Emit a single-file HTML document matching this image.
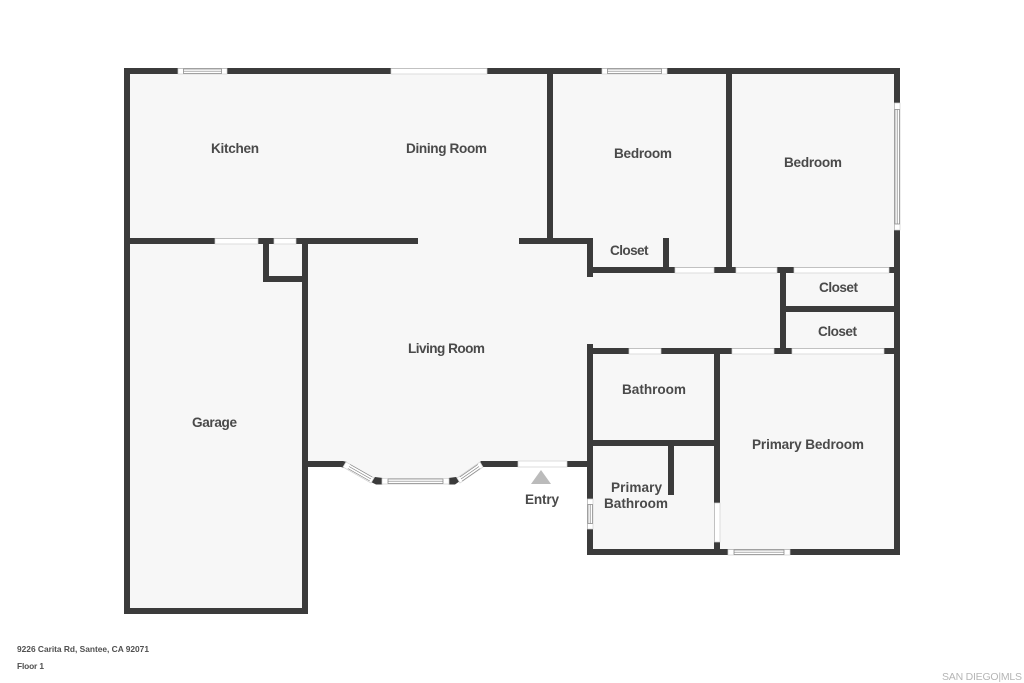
<!DOCTYPE html>
<html>
<head>
<meta charset="utf-8">
<style>
html,body{margin:0;padding:0;background:#fff;width:1024px;height:683px;overflow:hidden}
svg{display:block}
text{font-family:"Liberation Sans",sans-serif;font-weight:700;fill:#4a4a4a;font-size:13.6px}
text.f{font-size:8.4px;fill:#505050}
.w{fill:#3b3b3b}
.o{fill:#fff;stroke:#d0d0d0;stroke-width:.7}
.l{fill:none;stroke:#808080;stroke-width:.7}
</style>
</head>
<body>
<svg width="1024" height="683" viewBox="0 0 1024 683" xmlns="http://www.w3.org/2000/svg">
<rect width="1024" height="683" fill="#fff"/>
<polygon fill="#f7f7f7" points="124,68 900,68 900,555 587,555 587,464 481,464 452,481 378,481 345,464 305,464 305,614 124,614"/>

<g class="w">
<!-- outer -->
<rect x="124" y="68" width="776" height="6"/>
<rect x="124" y="68" width="6" height="546"/>
<rect x="124" y="608" width="184" height="6"/>
<rect x="302" y="238" width="6" height="376"/>
<rect x="894" y="68" width="6" height="487"/>
<rect x="587" y="549" width="313" height="6"/>
<!-- kitchen / garage wall -->
<rect x="124" y="238" width="294" height="6"/>
<rect x="263" y="238" width="6" height="44"/>
<rect x="263" y="276" width="45" height="6"/>
<!-- dining / bedroom -->
<rect x="547" y="68" width="6" height="176"/>
<rect x="519" y="238" width="74" height="6"/>
<rect x="587" y="238" width="6" height="39"/>
<rect x="587" y="267" width="313" height="6"/>
<rect x="663" y="238" width="6" height="35"/>
<rect x="726" y="68" width="6" height="205"/>
<!-- closets -->
<rect x="780" y="267" width="6" height="87"/>
<rect x="780" y="306" width="120" height="6"/>
<!-- lower rooms -->
<rect x="587" y="348" width="313" height="6"/>
<rect x="587" y="344" width="6" height="211"/>
<rect x="714" y="348" width="6" height="207"/>
<rect x="587" y="440" width="133" height="6"/>
<rect x="668" y="440" width="6" height="55"/>
<!-- front wall -->
<rect x="302" y="461" width="41" height="6"/>
<rect x="481" y="461" width="107" height="6"/>
<polygon points="375,477 382.5,478 382.5,484.5 376,484.5 371,482"/>
<polygon points="448.5,478 456,477 460,481 455,484.5 448.5,484.5"/>
<polygon points="343,461 347,462 344,468 341,467"/>
<polygon points="478,464 481,461 483,467 480,469"/>
</g>

<!-- doors / openings -->
<rect class="o" x="391" y="68.5" width="96" height="5.5"/>
<rect class="o" x="215" y="238.5" width="43" height="5.5"/>
<rect class="o" x="274" y="238.5" width="22" height="5.5"/>
<rect class="o" x="675" y="267.5" width="39" height="5.5"/>
<rect class="o" x="736" y="267.5" width="41" height="5.5"/>
<rect class="o" x="794" y="267.5" width="95" height="5.5"/>
<rect class="o" x="629" y="348.5" width="32" height="5.5"/>
<rect class="o" x="732" y="348.5" width="42" height="5.5"/>
<rect class="o" x="792" y="348.5" width="92" height="5.5"/>
<rect class="o" x="518" y="461" width="49" height="6"/>
<rect class="o" x="714.5" y="503" width="5.5" height="39"/>

<!-- windows -->
<rect class="o" x="178" y="68.5" width="49" height="5.5"/>
<rect class="l" x="183.5" y="69" width="38" height="4.5"/><line class="l" x1="183.5" y1="71.2" x2="221.5" y2="71.2"/>
<rect class="o" x="602" y="68.5" width="65" height="5.5"/>
<rect class="l" x="607.5" y="69" width="54" height="4.5"/><line class="l" x1="607.5" y1="71.2" x2="661.5" y2="71.2"/>
<rect class="o" x="728" y="549.5" width="62" height="5.5"/>
<rect class="l" x="734" y="550" width="50" height="4.5"/><line class="l" x1="734" y1="552.2" x2="784" y2="552.2"/>
<rect class="o" x="894.5" y="103" width="5.5" height="127"/>
<rect class="l" x="895" y="109.5" width="4.5" height="114.5"/><line class="l" x1="897.2" y1="109.5" x2="897.2" y2="224"/>
<rect class="o" x="587.5" y="499" width="5.5" height="30"/>
<rect class="l" x="588" y="504.5" width="4.5" height="19"/><line class="l" x1="590.2" y1="504.5" x2="590.2" y2="523.5"/>
<rect class="o" x="382" y="478.5" width="67" height="5.5"/>
<rect class="l" x="388" y="479" width="55" height="4.5"/><line class="l" x1="388" y1="481.2" x2="443" y2="481.2"/>
<polygon class="o" points="346,462 374,478 371,483 343,467"/>
<line class="l" x1="349" y1="466.5" x2="371" y2="479"/><line class="l" x1="347.8" y1="468.5" x2="369.8" y2="481"/><line class="l" x1="350.2" y1="464.5" x2="372.2" y2="477"/>
<polygon class="o" points="457,478 480,462 483,467 460,483"/>
<line class="l" x1="461" y1="479" x2="479" y2="466.5"/><line class="l" x1="459.8" y1="477" x2="477.8" y2="464.5"/><line class="l" x1="462.2" y1="481" x2="480.2" y2="468.5"/>

<!-- entry marker -->
<polygon fill="#bbbbbb" points="541,470 551,484 531,484"/>

<!-- labels -->
<text x="211" y="153" textLength="48" lengthAdjust="spacing">Kitchen</text>
<text x="406" y="153" textLength="81" lengthAdjust="spacing">Dining Room</text>
<text x="614" y="158" textLength="58" lengthAdjust="spacing">Bedroom</text>
<text x="784" y="167" textLength="58" lengthAdjust="spacing">Bedroom</text>
<text x="610" y="255" textLength="38.5" lengthAdjust="spacing">Closet</text>
<text x="819" y="292" textLength="39" lengthAdjust="spacing">Closet</text>
<text x="818" y="336" textLength="39" lengthAdjust="spacing">Closet</text>
<text x="408" y="353" textLength="77" lengthAdjust="spacing">Living Room</text>
<text x="192" y="427" textLength="45" lengthAdjust="spacing">Garage</text>
<text x="622" y="394" textLength="64" lengthAdjust="spacing">Bathroom</text>
<text x="752" y="449" textLength="112" lengthAdjust="spacing">Primary Bedroom</text>
<text x="611" y="492" textLength="51" lengthAdjust="spacing">Primary</text>
<text x="604" y="508" textLength="64" lengthAdjust="spacing">Bathroom</text>
<text x="525" y="504" textLength="34" lengthAdjust="spacing">Entry</text>

<text class="f" x="17" y="652" textLength="132" lengthAdjust="spacing">9226 Carita Rd, Santee, CA 92071</text>
<text class="f" x="17" y="669" textLength="27" lengthAdjust="spacing">Floor 1</text>
<text x="942" y="680" textLength="80" lengthAdjust="spacing" style="font-size:10.5px;font-weight:400;fill:#b5b5b5">SAN DIEGO|MLS</text>
</svg>
</body>
</html>
